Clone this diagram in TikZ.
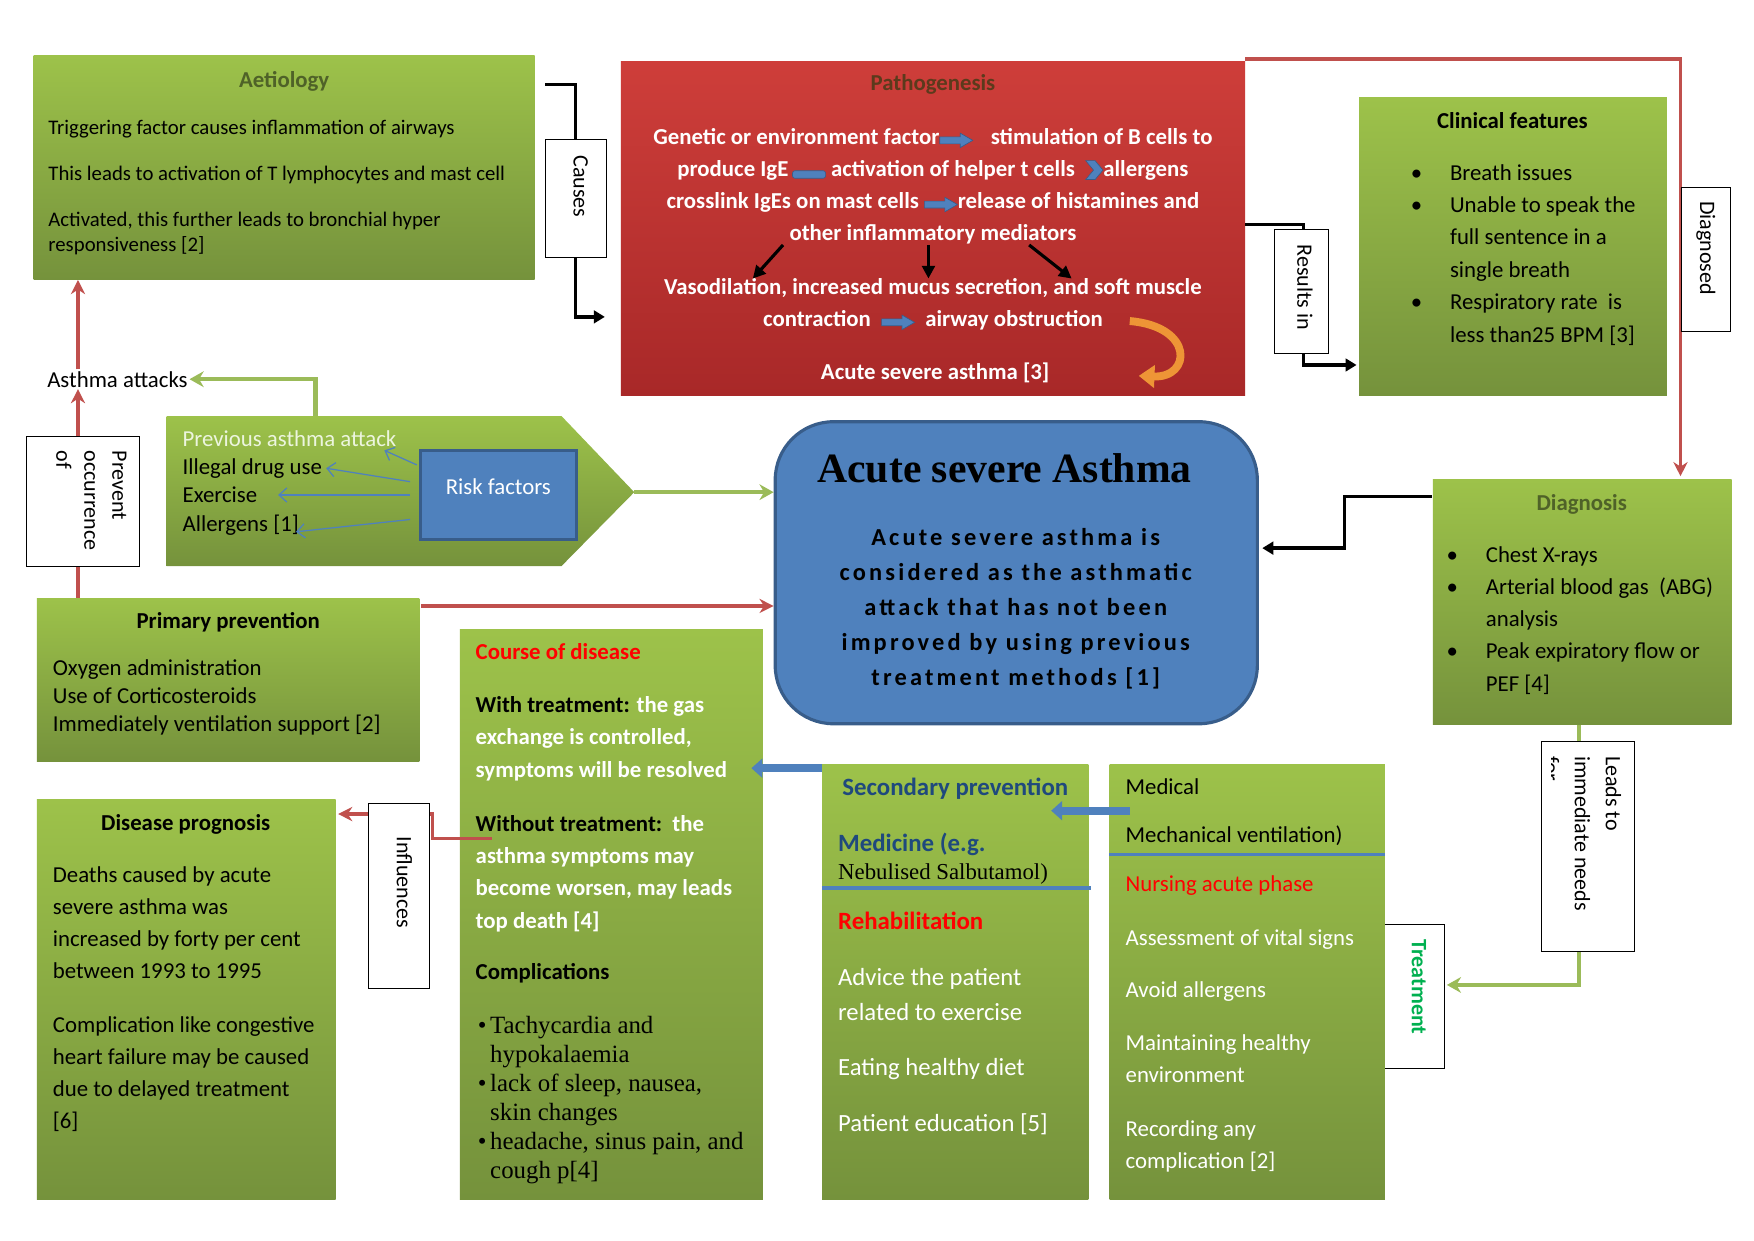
\documentclass[tikz,border=0pt]{standalone}
\usepackage{fontspec}
\setmainfont{Carlito}
\newfontfamily\serifont{Liberation Serif}
\newfontfamily\spacedfont{Carlito}[LetterSpace=13]
\usetikzlibrary{calc,fit,arrows.meta}

\definecolor{grnT}{RGB}{157,194,74}
\definecolor{grnB}{RGB}{117,146,60}
\definecolor{redT}{RGB}{206,62,58}
\definecolor{redB}{RGB}{168,40,40}
\definecolor{bluF}{RGB}{79,129,189}
\definecolor{bluD}{RGB}{56,93,138}
\definecolor{conRed}{RGB}{192,80,77}
\definecolor{conGrn}{RGB}{155,187,89}
\definecolor{oliveT}{RGB}{79,98,40}
\definecolor{brownT}{RGB}{92,58,28}
\definecolor{navyT}{RGB}{31,73,125}
\definecolor{treatG}{RGB}{0,176,80}
\definecolor{orngA}{RGB}{238,149,54}
\definecolor{paleT}{RGB}{236,245,222}

\newcommand{\fsz}[2]{\fontsize{#1}{#2}\selectfont}
\newcommand{\tl}[1]{\begin{tabular}[t]{@{}l@{}}#1\end{tabular}}
\newcommand{\tc}[1]{\begin{tabular}[t]{@{}c@{}}#1\end{tabular}}
\newcommand{\pgarr}{\tikz[baseline=-2.5pt,x=1pt,y=1pt]\filldraw[fill=bluF,draw=bluD,line width=0.4pt] (0,-2.2)--(13,-2.2)--(13,-4.6)--(21,0)--(13,4.6)--(13,2.2)--(0,2.2)--cycle;}
\newcommand{\pgbar}{\tikz[baseline=-1pt,x=1pt,y=1pt]\filldraw[fill=bluF,draw=bluD,line width=0.4pt,rounded corners=1.5pt] (0,-2.2) rectangle (21,2.6);}
\newcommand{\pgchev}{\tikz[baseline=-4pt,x=1pt,y=1pt]\filldraw[fill=bluF,draw=bluD,line width=0.4pt] (0,-6)--(6,-6)--(11,0)--(6,6)--(0,6)--(5,0)--cycle;}

\tikzset{
  greenbox/.style={top color=grnT, bottom color=grnB, inner sep=0pt},
  redbox/.style={top color=redT, bottom color=redB, inner sep=0pt},
  acutebox/.style={fill=bluF, draw=bluD, line width=2pt, rounded corners=1.3cm, inner sep=0pt},
  riskbox/.style={fill=bluF, draw=bluD, line width=2pt, inner sep=0pt, text=white, font=\fsz{14.5}{17}},
  labelbox/.style={draw, fill=white, line width=0.6pt, inner sep=0pt},
  labeltext/.style={rotate=-90, inner sep=0pt, align=left, font=\fsz{14}{17.8}},
  txt/.style={inner sep=0pt, anchor=base west},
  ctr/.style={inner sep=0pt, anchor=base},
  blkarrow/.style={draw=black, line width=2.2pt, -{Triangle[length=7pt,width=8pt]}},
  redarrow/.style={draw=conRed, line width=2.2pt, -{Stealth[length=9pt,width=9pt]}},
  grnarrow/.style={draw=conGrn, line width=2.8pt, -{Stealth[length=9pt,width=10pt]}},
  bluearrow/.style={draw=bluF, line width=5pt, -{Triangle[length=7pt,width=12pt]}},
  thinarrow/.style={draw=bluF, line width=0.8pt, -{Straight Barb[length=5pt,width=9pt]}},
  patharrow/.style={draw=black, line width=2pt, -{Triangle[length=8pt,width=8pt]}},
  curvearrow/.style={draw=orngA, line width=5pt, -{Triangle[length=10pt,width=14pt]}},
  divider/.style={draw=bluF, line width=2.2pt}
}

\begin{document}
\begin{tikzpicture}[x=0.025cm,y=-0.025cm]
\useasboundingbox (0,0) rectangle (1568,1109);

% boxes
\node[greenbox, fit={(30,50)(478,250)}] (aet) {};
\node[redbox, fit={(555,55)(1113,354)}] (patho) {};
\node[greenbox, fit={(1215,87)(1490,354)}] (clin) {};
\shade[top color=grnT, bottom color=grnB] (149,372) -- (502,372) -- (567,440) -- (502,506) -- (149,506) -- cycle;
\coordinate (rftop) at (282,372);
\coordinate (rftip) at (567,440);
\node[riskbox, fit={(376,403)(515,482)}] (risk) {Risk factors};
\node[acutebox, fit={(693,377)(1124,647)}] (acute) {};
\node[greenbox, fit={(1281,429)(1548,648)}] (diag) {};
\node[greenbox, fit={(33,535)(375,681)}] (prim) {};
\node[greenbox, fit={(411,563)(682,1072)}] (course) {};
\node[greenbox, fit={(33,715)(300,1072)}] (prog) {};
\node[greenbox, fit={(735,683)(973,1072)}] (sec) {};
\node[labelbox, fit={(1236,826)(1291,955)}] (treatbox) {};
\node[greenbox, fit={(992,683)(1238,1072)}] (med) {};

% texts
\node[ctr, text=oliveT, font=\fsz{14.5}{17}\bfseries] (aettitle) at (254,78) {Aetiology};
\node[txt, font=\fsz{13.2}{16.4}] (aettext) at (43,120) {\tl{Triggering factor causes inflammation of airways\\[12.8pt]This leads to activation of T lymphocytes and mast cell\\[12.8pt]Activated, this further leads to bronchial hyper\\responsiveness [2]}};

\node[ctr, text=brownT, font=\fsz{14.5}{17}\bfseries] (pattitle) at (834,81) {Pathogenesis};
\node[ctr, text=white, font=\fsz{14.5}{20.4}\bfseries] (pat1) at (834,129) {\tc{Genetic or environment factor\pgarr\hspace{8pt} stimulation of B cells to\\produce IgE\,\pgbar\ activation of helper t cells\ \ \pgchev allergens\\crosslink IgEs on mast cells \pgarr release of histamines and\\other inflammatory mediators}};
\node[ctr, text=white, font=\fsz{14.5}{20.4}\bfseries] (pat2) at (834,263) {\tc{Vasodilation, increased mucus secretion, and soft muscle\\contraction\ \ \pgarr\ \ airway obstruction}};
\node[ctr, text=white, font=\fsz{14.5}{20.4}\bfseries] (pat3) at (836,339) {Acute severe asthma [3]};
\foreach \a/\b in {700/673, 830/830, 920/958}
  \draw[patharrow] (\a,219) -- (\b,249);
\draw[curvearrow] (1010,287) .. controls (1068,292) and (1065,338) .. (1018,336);

\node[ctr, font=\fsz{14.5}{17}\bfseries] (clintitle) at (1352,115) {Clinical features};
\node[txt, font=\fsz{14.5}{20.6}] (clintext) at (1296,161) {\tl{Breath issues\\Unable to speak the\\full sentence in a\\single breath\\Respiratory rate\ \ is\\less than25 BPM [3]}};
\node[txt, font=\fsz{14.5}{20.6}] (clinbul) at (1261,161) {\tl{\textbullet\\\textbullet\\\mbox{}\\\mbox{}\\\textbullet}};

\node[ctr, text=oliveT, font=\fsz{14.5}{17}\bfseries] (diagtitle) at (1414,456) {Diagnosis};
\node[txt, font=\fsz{14.5}{20.4}] (diagtext) at (1328,503) {\tl{Chest X-rays\\Arterial blood gas\ \ (ABG)\\analysis\\Peak expiratory flow or\\PEF [4]}};
\node[txt, font=\fsz{14.5}{20.4}] (diagbul) at (1293,503) {\tl{\textbullet\\\textbullet\\\mbox{}\\\textbullet}};

\node[font=\fsz{14.5}{17}, inner sep=1pt] (asth) at (105,339) {Asthma attacks};
\node[txt, font=\fsz{14.5}{18}] (risktext) at (163,399) {\tl{\textcolor{paleT}{Previous asthma attack}\\Illegal drug use\\Exercise\\Allergens [1]}};
\draw[thinarrow] ($(risk.north west)+(-2,14)$) -- ++(-29,-13);
\draw[thinarrow] ($(risk.north west)+(-8,29)$) -- ++(-75,-12);
\draw[thinarrow] ($(risk.west)+(-8,0)$) -- ++(-118,0);
\draw[thinarrow] ($(risk.south west)+(-8,-19)$) -- ++(-102,11);

\node[ctr, font=\serifont\bfseries\fsz{26.5}{30}] (acutetitle) at (898,431) {Acute severe Asthma};
\node[ctr, text=black, font=\spacedfont\bfseries\fsz{15.5}{22.2}] (acutetext) at (908,488) {\tc{Acute severe asthma is\\considered as the asthmatic\\attack that has not been\\improved by using previous\\treatment methods [1]}};

\node[ctr, font=\fsz{14.5}{17}\bfseries] (primtitle) at (204,562) {Primary prevention};
\node[txt, font=\fsz{14.5}{17.8}] (primtext) at (47,604) {\tl{Oxygen administration\\Use of Corticosteroids\\Immediately ventilation support [2]}};

\node[txt, text=red, font=\fsz{14.5}{17}\bfseries] (coursetitle) at (425,590) {Course of disease};
\node[txt, text=white, font=\fsz{14.5}{20.6}\bfseries] (coursetext) at (425,637) {\tl{\textcolor{black}{With treatment:} the gas\\exchange is controlled,\\symptoms will be resolved\\[13.5pt]\textcolor{black}{Without treatment:}\ \ the\\asthma symptoms may\\become worsen, may leads\\top death [4]}};
\node[txt, font=\fsz{14.5}{17}\bfseries] (compltitle) at (425,876) {Complications};
\node[txt, font=\serifont\fsz{15.8}{18.4}] (compltext) at (427,924) {\tl{\makebox[7.8pt][l]{\textbullet}Tachycardia and\\\hspace*{7.8pt}hypokalaemia\\\makebox[7.8pt][l]{\textbullet}lack of sleep, nausea,\\\hspace*{7.8pt}skin changes\\\makebox[7.8pt][l]{\textbullet}headache, sinus pain, and\\\hspace*{7.8pt}cough p[4]}};

\node[ctr, font=\fsz{14.5}{17}\bfseries] (progtitle) at (166,742) {Disease prognosis};
\node[txt, font=\fsz{14.5}{20.4}] (progtext) at (47,789) {\tl{Deaths caused by acute\\severe asthma was\\increased by forty per cent\\between 1993 to 1995\\[13.7pt]Complication like congestive\\heart failure may be caused\\due to delayed treatment\\{}[6]}};

\node[ctr, text=navyT, font=\fsz{15.8}{18}\bfseries] (sectitle) at (854,711) {Secondary prevention};
\node[txt, text=navyT, font=\fsz{15.8}{18}\bfseries] (medicine) at (749,761) {Medicine (e.g.};
\node[txt, font=\serifont\fsz{14.5}{17}] (nebul) at (749,786) {Nebulised Salbutamol)};
\draw[divider] ($(sec.north west)+(0,111)$) -- ($(sec.north east)+(2,111)$);
\node[txt, text=red, font=\fsz{15.8}{18}\bfseries] (rehab) at (749,831) {Rehabilitation};
\node[txt, text=white, font=\fsz{15.7}{22}] (rehabtext) at (749,881) {\tl{Advice the patient\\related to exercise\\[12.9pt]Eating healthy diet\\[13.6pt]Patient education [5]}};

\node[txt, font=\fsz{14.5}{20.6}] (medtext) at (1006,710) {\tl{Medical\\[10pt]Mechanical ventilation)}};
\draw[divider] ($(med.north west)+(0,81)$) -- ($(med.north east)+(0,81)$);
\node[txt, text=red, font=\fsz{14.5}{17}] (nursing) at (1006,797) {Nursing acute phase};
\node[txt, text=white, font=\fsz{14.5}{20.6}] (nursetext) at (1006,845) {\tl{Assessment of vital signs\\[12.8pt]Avoid allergens\\[12.8pt]Maintaining healthy\\environment\\[13.5pt]Recording any\\complication [2]}};

% connectors
\draw[blkarrow] ($(aet.north east)+(9,26)$) -- ++(27,0) |- ($(patho.south west)+(-14,-71)$);
\draw[redarrow] ($(patho.north east)+(0,-2)$) -| ($(diag.north east)+(-46,-3)$);
\draw[blkarrow] ($(patho.east)+(0,-4)$) -- ++(52,0) |- ($(clin.south west)+(-2,-28)$);
\coordinate (pa) at ($(prim.north west)+(37,0)$);
\draw[redarrow] (pa) -- (pa |- asth.south);
\draw[redarrow] (pa |- asth.north) -- (pa |- aet.south);
\draw[grnarrow] (rftop) |- (asth.east);
\draw[grnarrow] (rftip) -- (rftip -| acute.west);
\coordinate (pr) at ($(prim.north east)+(1,7)$);
\draw[redarrow] (pr) -- (pr -| acute.west);
\draw[blkarrow] ($(diag.north west)+(-1,15)$) -- ++(-78,0) |- ($(acute.east)+(3,-22)$);
\draw[bluearrow] ($(sec.north west)+(0,4)$) -- ++(-63,0);
\draw[bluearrow] ($(med.north west)+(18,42)$) -- ++(-70,0);
\draw[redarrow] ($(course.north west)+(29,187)$) -- ++(-53,0) |- ($(prog.north east)+(2,13)$);
\draw[grnarrow] ($(diag.south west)+(131,0)$) |- ($(treatbox.east)+(2,-10)$);

% labels
\node[labelbox, fit={(488,125)(542,230)}] (causesbox) {};
\node[labeltext, anchor=west] (causes) at ($(causesbox.north)+(4,14)$) {Causes};
\node[labelbox, fit={(1139,205)(1188,316)}] (resbox) {};
\node[labeltext, anchor=west] (results) at ($(resbox.north)+(3,14)$) {Results in};
\node[labelbox, fit={(1503,168)(1547,296)}] (diagnbox) {};
\node[labeltext, anchor=west] (diagnosed) at ($(diagnbox.north)+(0,12)$) {Diagnosed};
\node[labelbox, fit={(24,390)(125,506)}] (prevbox) {};
\node[labeltext, anchor=north west] (prevent) at ($(prevbox.north east)+(-12,13)$) {Prevent\\occurrence\\of};
\node[labelbox, fit={(329,718)(384,884)}] (inflbox) {};
\node[labeltext, anchor=west] (influences) at ($(inflbox.north)+(5,30)$) {Influences};
\node[labeltext, anchor=west, text=treatG, font=\fsz{14}{17}\bfseries] (treat) at ($(treatbox.north)+(5,14)$) {Treatment};
\node[labelbox, fit={(1378,663)(1461,851)}] (leadsbox) {};
\begin{scope}
  \clip ($(leadsbox.north west)+(9,1)$) rectangle ($(leadsbox.south east)+(-1,-1)$);
  \node[labeltext, anchor=north west, font=\fsz{14}{19.6}] (leads) at ($(leadsbox.north east)+(-12,13)$) {Leads to\\immediate needs\\for};
\end{scope}
\end{tikzpicture}
\end{document}
